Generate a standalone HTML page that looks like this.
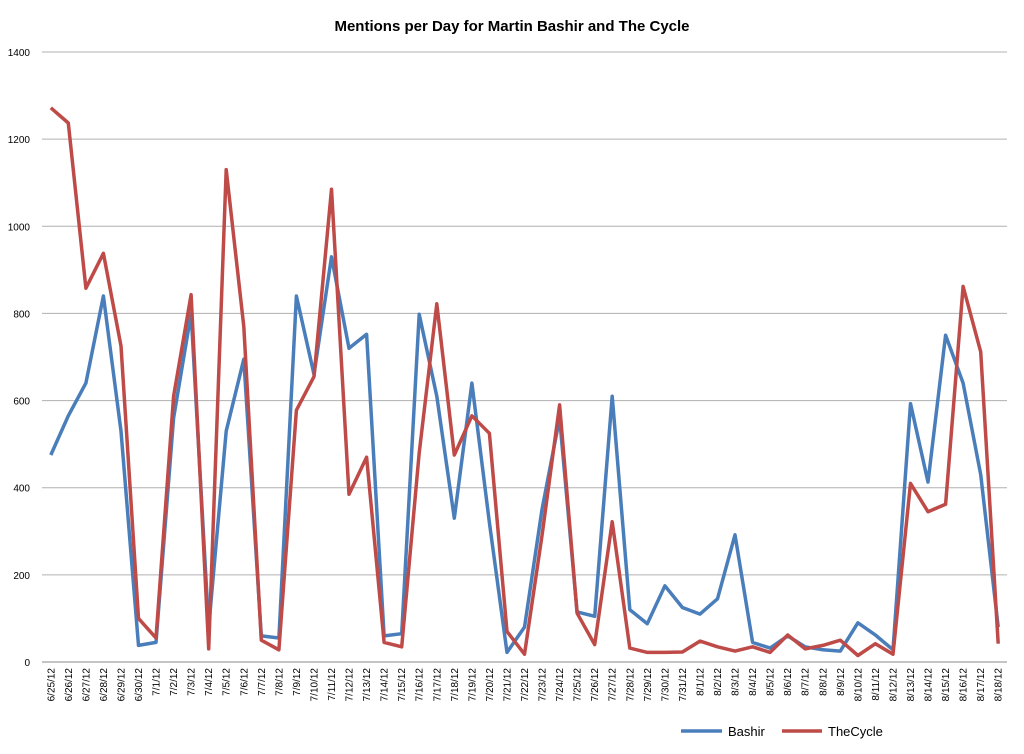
<!DOCTYPE html>
<html><head><meta charset="utf-8"><style>
html,body{margin:0;padding:0;background:#fff;}
svg{display:block;font-family:"Liberation Sans",sans-serif;}
</style></head><body>
<svg id="c" width="1024" height="754" xmlns="http://www.w3.org/2000/svg"></svg>
<script>
const dates=[];
for(let d=25;d<=30;d++)dates.push("6/"+d+"/12");
for(let d=1;d<=31;d++)dates.push("7/"+d+"/12");
for(let d=1;d<=18;d++)dates.push("8/"+d+"/12");
const B=[475,565,640,840,530,38,45,560,800,80,530,695,60,55,840,660,930,720,752,60,65,798,610,330,640,320,22,80,350,560,115,105,610,120,88,175,125,110,145,292,45,32,60,35,28,25,90,62,28,593,413,750,640,430,80];
const T=[1272,1237,858,938,725,100,55,610,843,30,1130,770,50,28,578,655,1085,385,470,45,35,480,822,475,565,525,70,18,290,590,112,40,322,32,22,22,23,48,35,25,35,22,62,30,38,50,15,42,18,410,345,362,862,712,42];
const x0=42,x1=1007,y0=662,y1=52,n=dates.length,w=(x1-x0)/n;
const X=i=>x0+w*(i+0.5),Y=v=>y0-(v/1400)*(y0-y1);
let s='<text x="512" y="31" text-anchor="middle" font-size="15" font-weight="bold">Mentions per Day for Martin Bashir and The Cycle</text>';
for(let v=0;v<=1400;v+=200){const y=Y(v);
s+=`<line x1="${x0}" x2="${x1}" y1="${y}" y2="${y}" stroke="${v?'#b0b0b0':'#888'}" stroke-width="1"/>`;
s+=`<text x="30" y="${y+4}" text-anchor="end" font-size="10">${v}</text>`;}
dates.forEach((d,i)=>{s+=`<text transform="translate(${X(i)+3.5},668) rotate(-90)" text-anchor="end" font-size="10">${d}</text>`;});
const pl=(a,c)=>`<polyline fill="none" stroke="${c}" stroke-width="3.5" stroke-linejoin="round" points="${a.map((v,i)=>X(i).toFixed(1)+','+Y(v).toFixed(1)).join(' ')}"/>`;
s+=pl(B,'#4a7ebb')+pl(T,'#be4b48');
s+='<line x1="681" x2="722" y1="731" y2="731" stroke="#4a7ebb" stroke-width="3.5"/><text x="728" y="736" font-size="13">Bashir</text>';
s+='<line x1="782" x2="822" y1="731" y2="731" stroke="#be4b48" stroke-width="3.5"/><text x="828" y="736" font-size="13">TheCycle</text>';
document.getElementById('c').innerHTML=s;
</script>
</body></html>
